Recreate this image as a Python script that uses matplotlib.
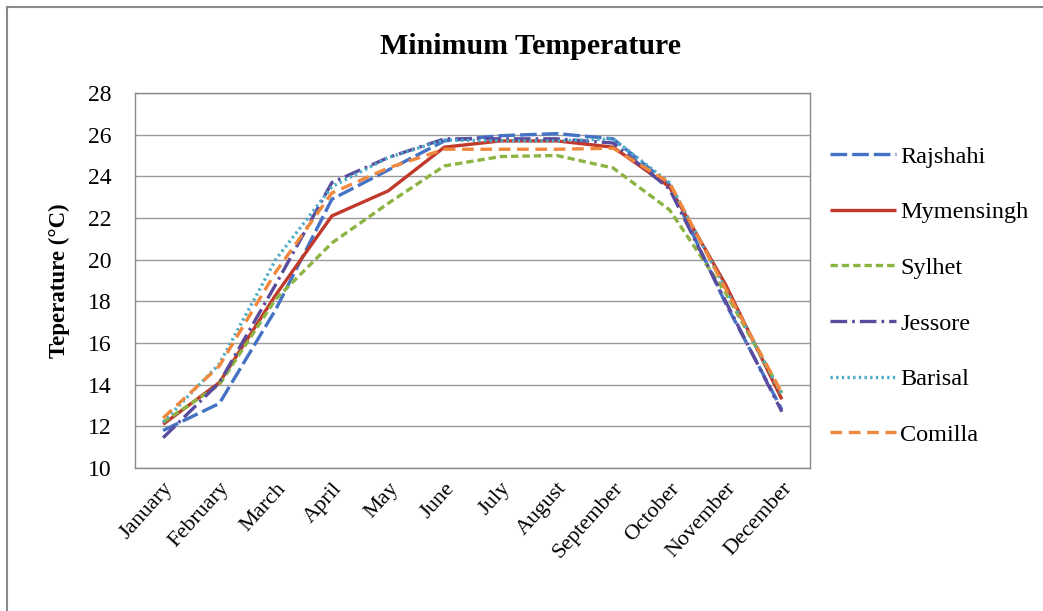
import matplotlib
matplotlib.use("Agg")
import matplotlib.pyplot as plt
from matplotlib.lines import Line2D

months = ["January", "February", "March", "April", "May", "June", "July",
          "August", "September", "October", "November", "December"]

rajshahi   = [11.8, 13.1, 17.6, 22.9, 24.3, 25.7, 25.95, 26.05, 25.8, 23.6, 17.9, 12.8]
mymensingh = [12.1, 14.1, 18.3, 22.1, 23.3, 25.4, 25.7, 25.7, 25.4, 23.5, 18.8, 13.3]
sylhet     = [12.2, 14.0, 18.1, 20.8, 22.7, 24.5, 24.95, 25.0, 24.4, 22.4, 18.4, 13.6]
jessore    = [11.45, 14.1, 18.8, 23.7, 24.9, 25.8, 25.8, 25.8, 25.6, 23.4, 18.0, 12.7]
barisal    = [12.2, 15.0, 20.0, 23.5, 24.9, 25.75, 25.7, 25.7, 25.8, 23.7, 18.6, 13.5]
comilla    = [12.4, 14.9, 19.4, 23.2, 24.4, 25.3, 25.3, 25.3, 25.35, 23.7, 18.6, 13.6]

yticks = [10, 12, 14, 16, 18, 20, 22, 24, 26, 28]

series = [
    ("Rajshahi",   rajshahi,   "#4472C4", (0, (5, 1.5))),
    ("Mymensingh", mymensingh, "#C0392B", "-"),
    ("Sylhet",     sylhet,     "#8CB443", (0, (2.2, 1.2))),
    ("Jessore",    jessore,    "#5A4B9E", (0, (5, 1.5, 0.8, 1.5))),
    ("Barisal",    barisal,    "#4BACC6", (0, (0.7, 1.0))),
    ("Comilla",    comilla,    "#F0883E", (0, (3.5, 2.0))),
]

serif = ["Liberation Serif", "DejaVu Serif"]
plt.rcParams["font.family"] = serif

fig = plt.figure(figsize=(10.43, 6.11), dpi=100)
ax = fig.add_axes([135 / 1043, 1 - 468 / 611, 675 / 1043, 375 / 611])

x = list(range(len(months)))
handles = []
for name, vals, color, ls in series:
    ln, = ax.plot(x, vals, color=color, linestyle=ls, linewidth=2.4,
                  label=name, solid_capstyle="butt", dash_capstyle="butt")
    handles.append(ln)

ax.set_xlim(-0.5, len(months) - 0.5)
ax.set_ylim(10, 28)
ax.set_yticks(yticks)
ax.set_yticklabels([str(v) for v in yticks], fontsize=17)
ax.set_xticks(x)
ax.set_xticklabels(months, rotation=48, ha="right", rotation_mode="anchor",
                   fontsize=16)
ax.tick_params(axis="x", length=0, pad=8)
ax.tick_params(axis="y", length=0, pad=17)
ax.grid(axis="y", color="#9a9a9a", linewidth=1.0)
ax.set_axisbelow(True)
for side in ["left", "right", "bottom", "top"]:
    ax.spines[side].set_color("#8a8a8a")
    ax.spines[side].set_linewidth(1.0)

ax.set_ylabel("Teperature (°C)", fontsize=16.5, fontweight="bold", labelpad=13)

fig.text(530 / 1043, 1 - 46 / 611, "Minimum Temperature", ha="center",
         va="center", fontsize=21.5, fontweight="bold")

leg = fig.legend(handles=handles, loc="upper left",
                 bbox_to_anchor=(808 / 1043, 1 - 124 / 611),
                 frameon=False, fontsize=17.5, handlelength=2.7,
                 handletextpad=0.2, labelspacing=1.38)

# outer frame along the top and left edges
fig.add_artist(Line2D([7 / 1043, 1.0], [1 - 7 / 611, 1 - 7 / 611],
                      color="#8a8a8a", linewidth=1.5, transform=fig.transFigure))
fig.add_artist(Line2D([7 / 1043, 7 / 1043], [0.0, 1 - 7 / 611],
                      color="#8a8a8a", linewidth=1.5, transform=fig.transFigure))

fig.savefig("out.png", dpi=100)
